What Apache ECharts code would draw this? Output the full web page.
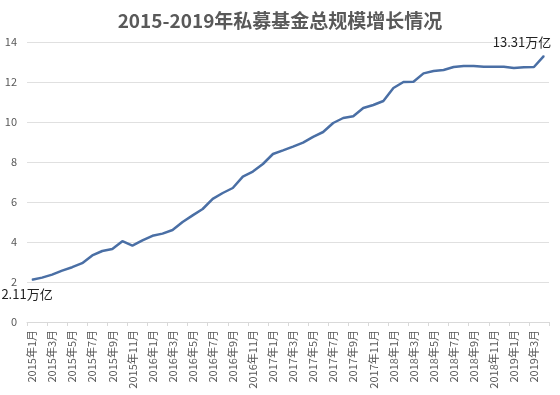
<!DOCTYPE html>
<html>
<head>
<meta charset="utf-8">
<script src="https://cdn.jsdelivr.net/npm/echarts@6/dist/echarts.min.js"></script>
<style>html,body{margin:0;padding:0;background:#fff;}#c{width:560px;height:395px;}</style>
</head>
<body>
<div id="c"></div>
<script>
var title = '2015-2019年私募基金总规模增长情况';
var years = [2015, 2016, 2017, 2018, 2019];
var lastMonth2019 = 4;
var values = [
  2.11, 2.22, 2.37, 2.57, 2.74, 2.94, 3.33, 3.55, 3.65, 4.04, 3.82, 4.08,
  4.31, 4.42, 4.60, 5.00, 5.33, 5.65, 6.16, 6.45, 6.70, 7.27, 7.52, 7.90,
  8.40, 8.58, 8.77, 8.97, 9.26, 9.50, 9.95, 10.20, 10.29, 10.70, 10.85, 11.05,
  11.70, 12.00, 12.01, 12.43, 12.55, 12.60, 12.75, 12.80, 12.80, 12.76, 12.76, 12.76,
  12.70, 12.74, 12.75, 13.31
];
var yTicks = [0, 2, 4, 6, 8, 10, 12, 14];
var unit = '万亿';

var categories = [];
years.forEach(function (y) {
  var n = (y === 2019) ? lastMonth2019 : 12;
  for (var m = 1; m <= n; m++) categories.push(y + '年' + m + '月');
});

var lastIdx = values.length - 1;
var labelStyle = { fontSize: 13, color: '#222', fontFamily: 'Noto Sans CJK SC' };
var chart = echarts.init(document.getElementById('c'), null, { renderer: 'canvas' });
chart.setOption({
  animation: false,
  backgroundColor: '#ffffff',
  title: {
    text: title,
    left: 'center',
    top: 6,
    textStyle: { fontSize: 19, fontWeight: 'bold', color: '#595959', fontFamily: 'Noto Sans CJK SC' }
  },
  grid: { left: 27, right: 11, top: 42, bottom: 73 },
  xAxis: {
    type: 'category',
    data: categories,
    boundaryGap: true,
    axisLine: { lineStyle: { color: '#d9d9d9', width: 1 } },
    axisTick: { show: true, interval: 1, length: 4, lineStyle: { color: '#d9d9d9' } },
    axisLabel: {
      interval: 1, rotate: 90, margin: 8,
      fontSize: 11, color: '#595959', fontFamily: 'Noto Sans CJK SC'
    }
  },
  yAxis: {
    type: 'value',
    min: yTicks[0], max: yTicks[yTicks.length - 1], interval: 2,
    axisLine: { show: false },
    axisTick: { show: false },
    splitLine: { lineStyle: { color: '#e0e0e0', width: 1 } },
    axisLabel: { margin: 10, fontSize: 11, color: '#595959', fontFamily: 'Noto Sans CJK SC' }
  },
  series: [{
    type: 'line',
    data: values,
    showSymbol: false,
    smooth: false,
    lineStyle: { color: '#4a6fa5', width: 2.5 },
    itemStyle: { color: '#4a6fa5' },
    markPoint: {
      symbol: 'circle',
      symbolSize: 1,
      itemStyle: { color: '#4a6fa5' },
      data: [
        { coord: [0, values[0]], value: values[0],
          label: Object.assign({ show: true, position: 'bottom', offset: [-5, 2],
            formatter: values[0] + unit }, labelStyle) },
        { coord: [lastIdx, values[lastIdx]], value: values[lastIdx],
          label: Object.assign({ show: true, position: 'top', offset: [-22, -2],
            formatter: values[lastIdx] + unit }, labelStyle) }
      ]
    }
  }]
});
</script>
</body>
</html>
